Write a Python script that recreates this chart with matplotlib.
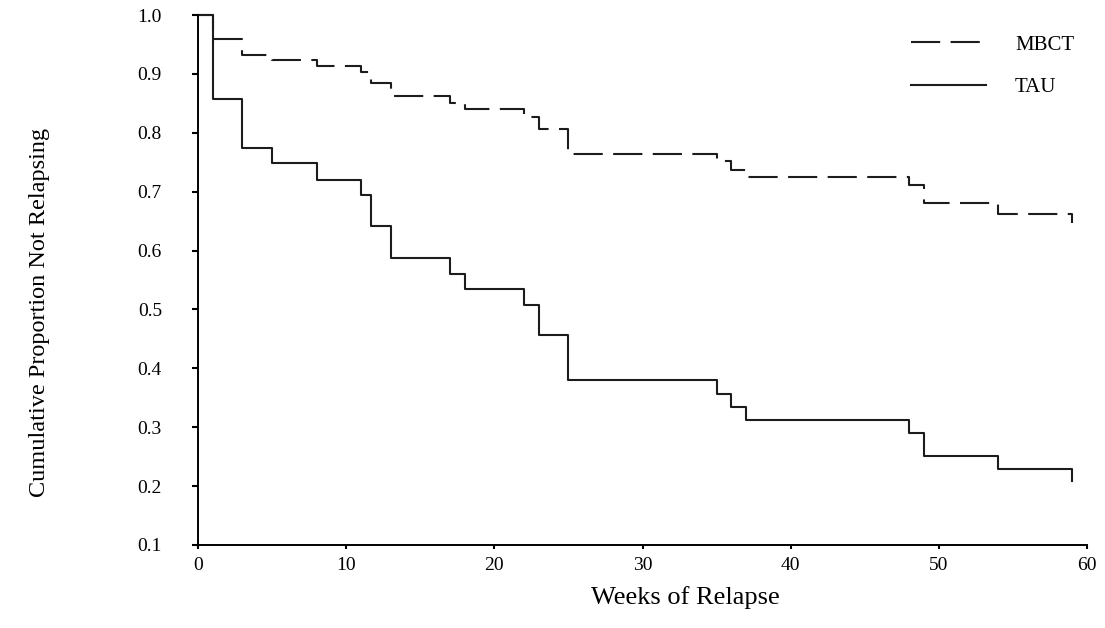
"""
Kaplan-Meier style relapse curves, MBCT vs TAU.
Step values read off the scanned figure.
"""

import matplotlib

matplotlib.use("Agg")

import matplotlib.pyplot as plt

plt.rcParams["font.family"] = ["Liberation Serif", "DejaVu Serif"]

# ---------------------------------------------------------------------------
# Data (weeks at which the curve steps, proportion after the step)
# ---------------------------------------------------------------------------

mbct_weeks = [0, 1, 3, 5, 8, 11, 11.7, 13, 17, 18, 22, 23, 25, 35, 36, 37, 48, 49, 54, 59]
mbct_surv = [1.0, 0.96, 0.932, 0.924, 0.914, 0.904, 0.885, 0.862, 0.851, 0.840,
             0.827, 0.806, 0.764, 0.752, 0.736, 0.725, 0.711, 0.681, 0.662, 0.646]

tau_weeks = [0, 1, 3, 5, 8, 11, 11.7, 13, 17, 18, 22, 23, 25, 35, 36, 37, 48, 49, 54, 59]
tau_surv = [1.0, 0.857, 0.775, 0.748, 0.720, 0.694, 0.641, 0.588, 0.560, 0.534,
            0.508, 0.457, 0.380, 0.357, 0.335, 0.312, 0.291, 0.251, 0.229, 0.208]

x_ticks = [0, 10, 20, 30, 40, 50, 60]
y_ticks = [0.1, 0.2, 0.3, 0.4, 0.5, 0.6, 0.7, 0.8, 0.9, 1.0]

LINE_COLOR = "#1c1c1c"

# ---------------------------------------------------------------------------
# Plot
# ---------------------------------------------------------------------------

fig = plt.figure(figsize=(11.05, 6.28), dpi=100)
ax = fig.add_axes([0.1792, 0.1322, 0.8045, 0.8439])

ax.plot(mbct_weeks, mbct_surv, drawstyle="steps-post", color=LINE_COLOR,
        linewidth=1.5, linestyle=(0, (14, 5)), clip_on=False, label="MBCT")
ax.plot(tau_weeks, tau_surv, drawstyle="steps-post", color=LINE_COLOR,
        linewidth=1.5, clip_on=False, label="TAU")

ax.set_xlim(0, 60)
ax.set_ylim(0.1, 1.0)
ax.set_xticks(x_ticks)
ax.set_yticks(y_ticks)
ax.set_yticklabels([f"{v:.1f}" for v in y_ticks])

for side in ("top", "right"):
    ax.spines[side].set_visible(False)
for side in ("left", "bottom"):
    ax.spines[side].set_linewidth(1.4)
    ax.spines[side].set_color("black")

ax.tick_params(axis="y", direction="out", length=4, width=1.5, pad=22, labelsize=14)
ax.tick_params(axis="x", direction="out", length=3, width=1.5, pad=6, labelsize=14)

ax.set_ylabel("Cumulative Proportion Not Relapsing", fontsize=17.5)
ax.yaxis.set_label_coords(-0.166, 0.438)
ax.set_xlabel("Weeks of Relapse", fontsize=19)
ax.xaxis.set_label_coords(0.548, -0.078)

ax.legend(loc="upper left", bbox_to_anchor=(0.79, 0.982), frameon=False,
          handlelength=3.6, handletextpad=1.4, labelspacing=1.1,
          fontsize=15, borderpad=0)

fig.savefig("out.png", dpi=100)
plt.close(fig)
